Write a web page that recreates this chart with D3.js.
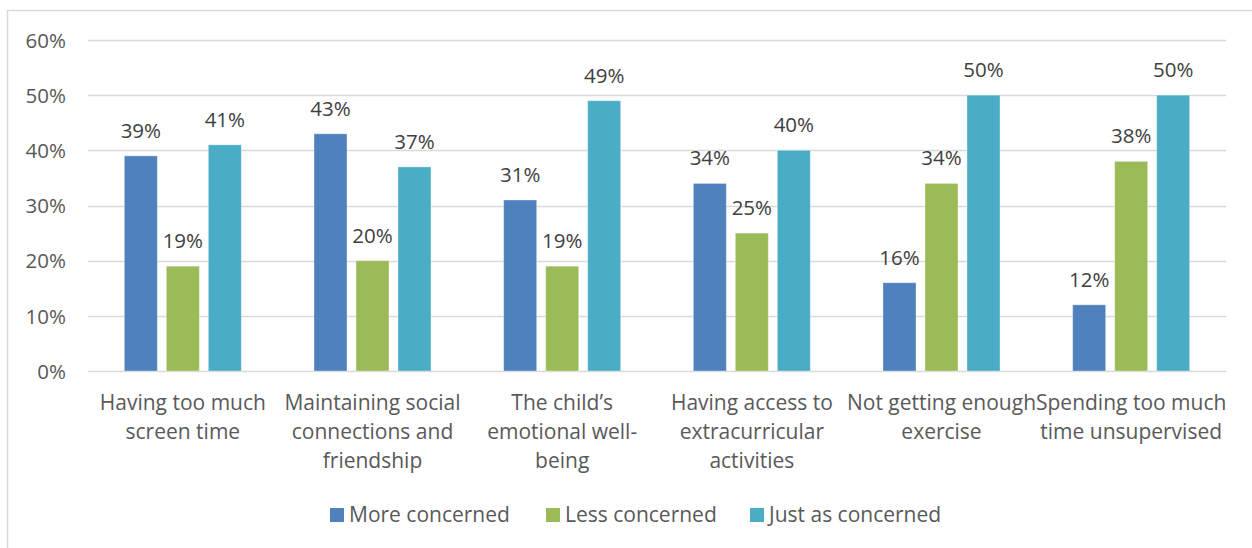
<!DOCTYPE html>
<html>
<head>
<meta charset="utf-8">
<script src="https://cdn.jsdelivr.net/npm/d3@7"></script>
<style>
  html, body { margin: 0; padding: 0; background: #fff; }
  svg { display: block; }
  text { font-family: "Open Sans", "Noto Sans", sans-serif; fill: #595959; }
</style>
</head>
<body>
<svg id="chart" width="1252" height="548"></svg>
<script>
// Categories (wrapped as they appear under the axis)
const categories = [
  "Having too much screen time",
  "Maintaining social connections and friendship",
  "The child’s emotional well-being",
  "Having access to extracurricular activities",
  "Not getting enough exercise",
  "Spending too much time unsupervised"
];
const categoryLines = [
  ["Having too much", "screen time"],
  ["Maintaining social", "connections and", "friendship"],
  ["The child’s", "emotional well-", "being"],
  ["Having access to", "extracurricular", "activities"],
  ["Not getting enough", "exercise"],
  ["Spending too much", "time unsupervised"]
];
const seriesNames = ["More concerned", "Less concerned", "Just as concerned"];
const moreConcerned   = [39, 43, 31, 34, 16, 12];
const lessConcerned   = [19, 20, 19, 25, 34, 38];
const justAsConcerned = [41, 37, 49, 40, 50, 50];
const yTicks = [0, 10, 20, 30, 40, 50, 60];
const colors = ["#4F81BD", "#9BBB59", "#4BACC6"];

const seriesValues = [moreConcerned, lessConcerned, justAsConcerned];

const svg = d3.select("#chart");

// Outer chart frame
svg.append("rect")
  .attr("x", 7.5).attr("y", 10.5)
  .attr("width", 1260).attr("height", 560)
  .attr("fill", "none").attr("stroke", "#d9d9d9").attr("stroke-width", 1.5);

const plot = { left: 88, right: 1226, top: 40, bottom: 371 };

const x0 = d3.scaleBand()
  .domain(categories)
  .range([plot.left, plot.right])
  .paddingInner(0).paddingOuter(0);

const groupW = x0.bandwidth();
const barW = 33;
const step = 42;

const y = d3.scaleLinear().domain([0, 60]).range([plot.bottom, plot.top]);

// Gridlines
svg.append("g")
  .selectAll("line")
  .data(yTicks)
  .join("line")
  .attr("x1", plot.left).attr("x2", plot.right)
  .attr("y1", d => Math.round(y(d)) + 0.5)
  .attr("y2", d => Math.round(y(d)) + 0.5)
  .attr("stroke", "#d9d9d9").attr("stroke-width", 1.5);

// Y axis labels
const yAxis = d3.axisLeft(y).tickValues(yTicks).tickFormat(d => d + "%").tickSize(0).tickPadding(0);
const yg = svg.append("g").attr("transform", `translate(${66},0)`).call(yAxis);
yg.select(".domain").remove();
yg.selectAll("text")
  .style("font-size", "20.5px")
  .style("font-family", "'Open Sans', 'Noto Sans', sans-serif")
  .attr("fill", "#595959")
  .attr("dy", "0.35em");

// Bars
const groups = svg.append("g")
  .selectAll("g")
  .data(categories)
  .join("g")
  .attr("transform", c => `translate(${x0(c) + groupW / 2},0)`);

seriesValues.forEach((vals, si) => {
  groups.append("rect")
    .attr("x", (c, i) => (si - 1) * step - barW / 2)
    .attr("y", (c, i) => y(vals[i]))
    .attr("width", barW)
    .attr("height", (c, i) => y(0) - y(vals[i]))
    .attr("fill", colors[si])
    .attr("stroke", "#ffffff").attr("stroke-opacity", 0.35).attr("stroke-width", 1);

  groups.append("text")
    .attr("x", (c, i) => (si - 1) * step)
    .attr("y", (c, i) => y(vals[i]) - 18)
    .attr("text-anchor", "middle")
    .style("font-size", "20.5px")
    .style("fill", "#404040")
    .text((c, i) => vals[i] + "%");
});

// Category labels
groups.each(function (c, i) {
  const t = d3.select(this).append("text")
    .attr("text-anchor", "middle")
    .style("font-size", "21px");
  categoryLines[i].forEach((line, li) => {
    t.append("tspan").attr("x", 0).attr("y", 410 + li * 29).text(line);
  });
});

// Legend
const legendX = [330, 546, 750];
const lg = svg.append("g")
  .selectAll("g")
  .data(seriesNames)
  .join("g")
  .attr("transform", (d, i) => `translate(${legendX[i]},0)`);
lg.append("rect").attr("x", 0).attr("y", 508).attr("width", 14).attr("height", 14)
  .attr("fill", (d, i) => colors[i]);
lg.append("text").attr("x", 19).attr("y", 522).style("font-size", "21px").text(d => d);
</script>
</body>
</html>
